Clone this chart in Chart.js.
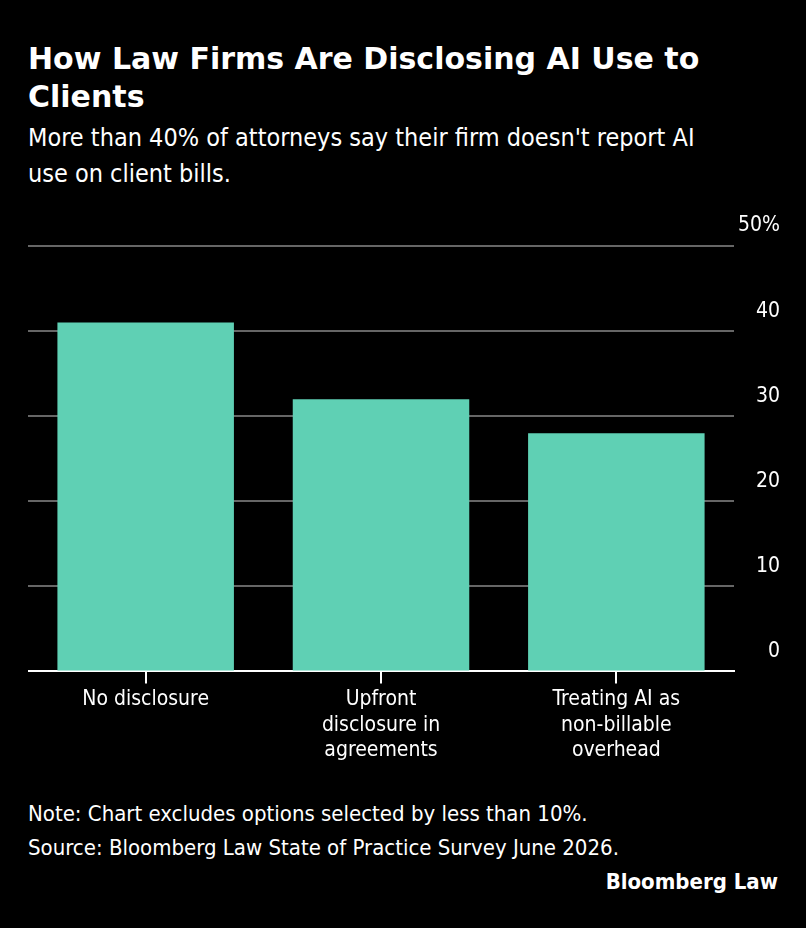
<!DOCTYPE html>
<html><head><meta charset="utf-8">
<script src="https://cdn.jsdelivr.net/npm/chart.js@4"></script>
<style>
body{margin:0;background:#000;width:806px;height:928px;font-family:'DejaVu Sans Condensed','DejaVu Sans',sans-serif;color:#fff;overflow:hidden}
h1{position:absolute;left:28px;top:40px;margin:0;font-family:'DejaVu Sans';font-size:30px;line-height:38px;font-weight:bold;width:760px}
.sub{position:absolute;left:28px;top:120px;font-size:25px;line-height:36px;width:690px}
#wrap{position:absolute;left:28px;top:212px;width:752px;height:555px}
.note{position:absolute;left:28px;top:797px;font-size:22px;line-height:34px}
.brand{position:absolute;right:28px;top:869px;font-size:22px;font-weight:bold}
</style></head><body>
<h1>How Law Firms Are Disclosing AI Use to Clients</h1>
<div class="sub">More than 40% of attorneys say their firm doesn't report AI use on client bills.</div>
<div id="wrap"><canvas id="c"></canvas></div>
<div class="note">Note: Chart excludes options selected by less than 10%.<br>Source: Bloomberg Law State of Practice Survey June 2026.</div>
<div class="brand">Bloomberg Law</div>
<script>
const labels = ['No disclosure', ['Upfront', 'disclosure in', 'agreements'], ['Treating AI as', 'non-billable', 'overhead']];
const values = [41, 32, 28];
const tickFont = { family: 'DejaVu Sans Condensed', size: 21 };
new Chart(document.getElementById('c'), {
  type: 'bar',
  data: { labels: labels, datasets: [{ data: values, backgroundColor: '#5fd0b4', barPercentage: 0.75, categoryPercentage: 1 }] },
  options: {
    responsive: true, maintainAspectRatio: false, animation: false,
    layout: { padding: { top: 34 } },
    plugins: { legend: { display: false }, tooltip: { enabled: false } },
    scales: {
      x: {
        grid: { offset: false, drawOnChartArea: false, color: '#fff', tickLength: 12, lineWidth: 2 },
        border: { color: '#fff', width: 2 },
        ticks: { color: '#fff', font: tickFont, maxRotation: 0, padding: 4 }
      },
      y: {
        position: 'right', min: 0, max: 50,
        grid: { color: '#666', lineWidth: 2, drawTicks: false },
        border: { display: false },
        ticks: { stepSize: 10, color: '#fff', font: tickFont, labelOffset: -20, padding: 2, crossAlign: 'far',
          callback: v => v === 50 ? '50%' : v }
      }
    }
  }
});
</script>
</body></html>
